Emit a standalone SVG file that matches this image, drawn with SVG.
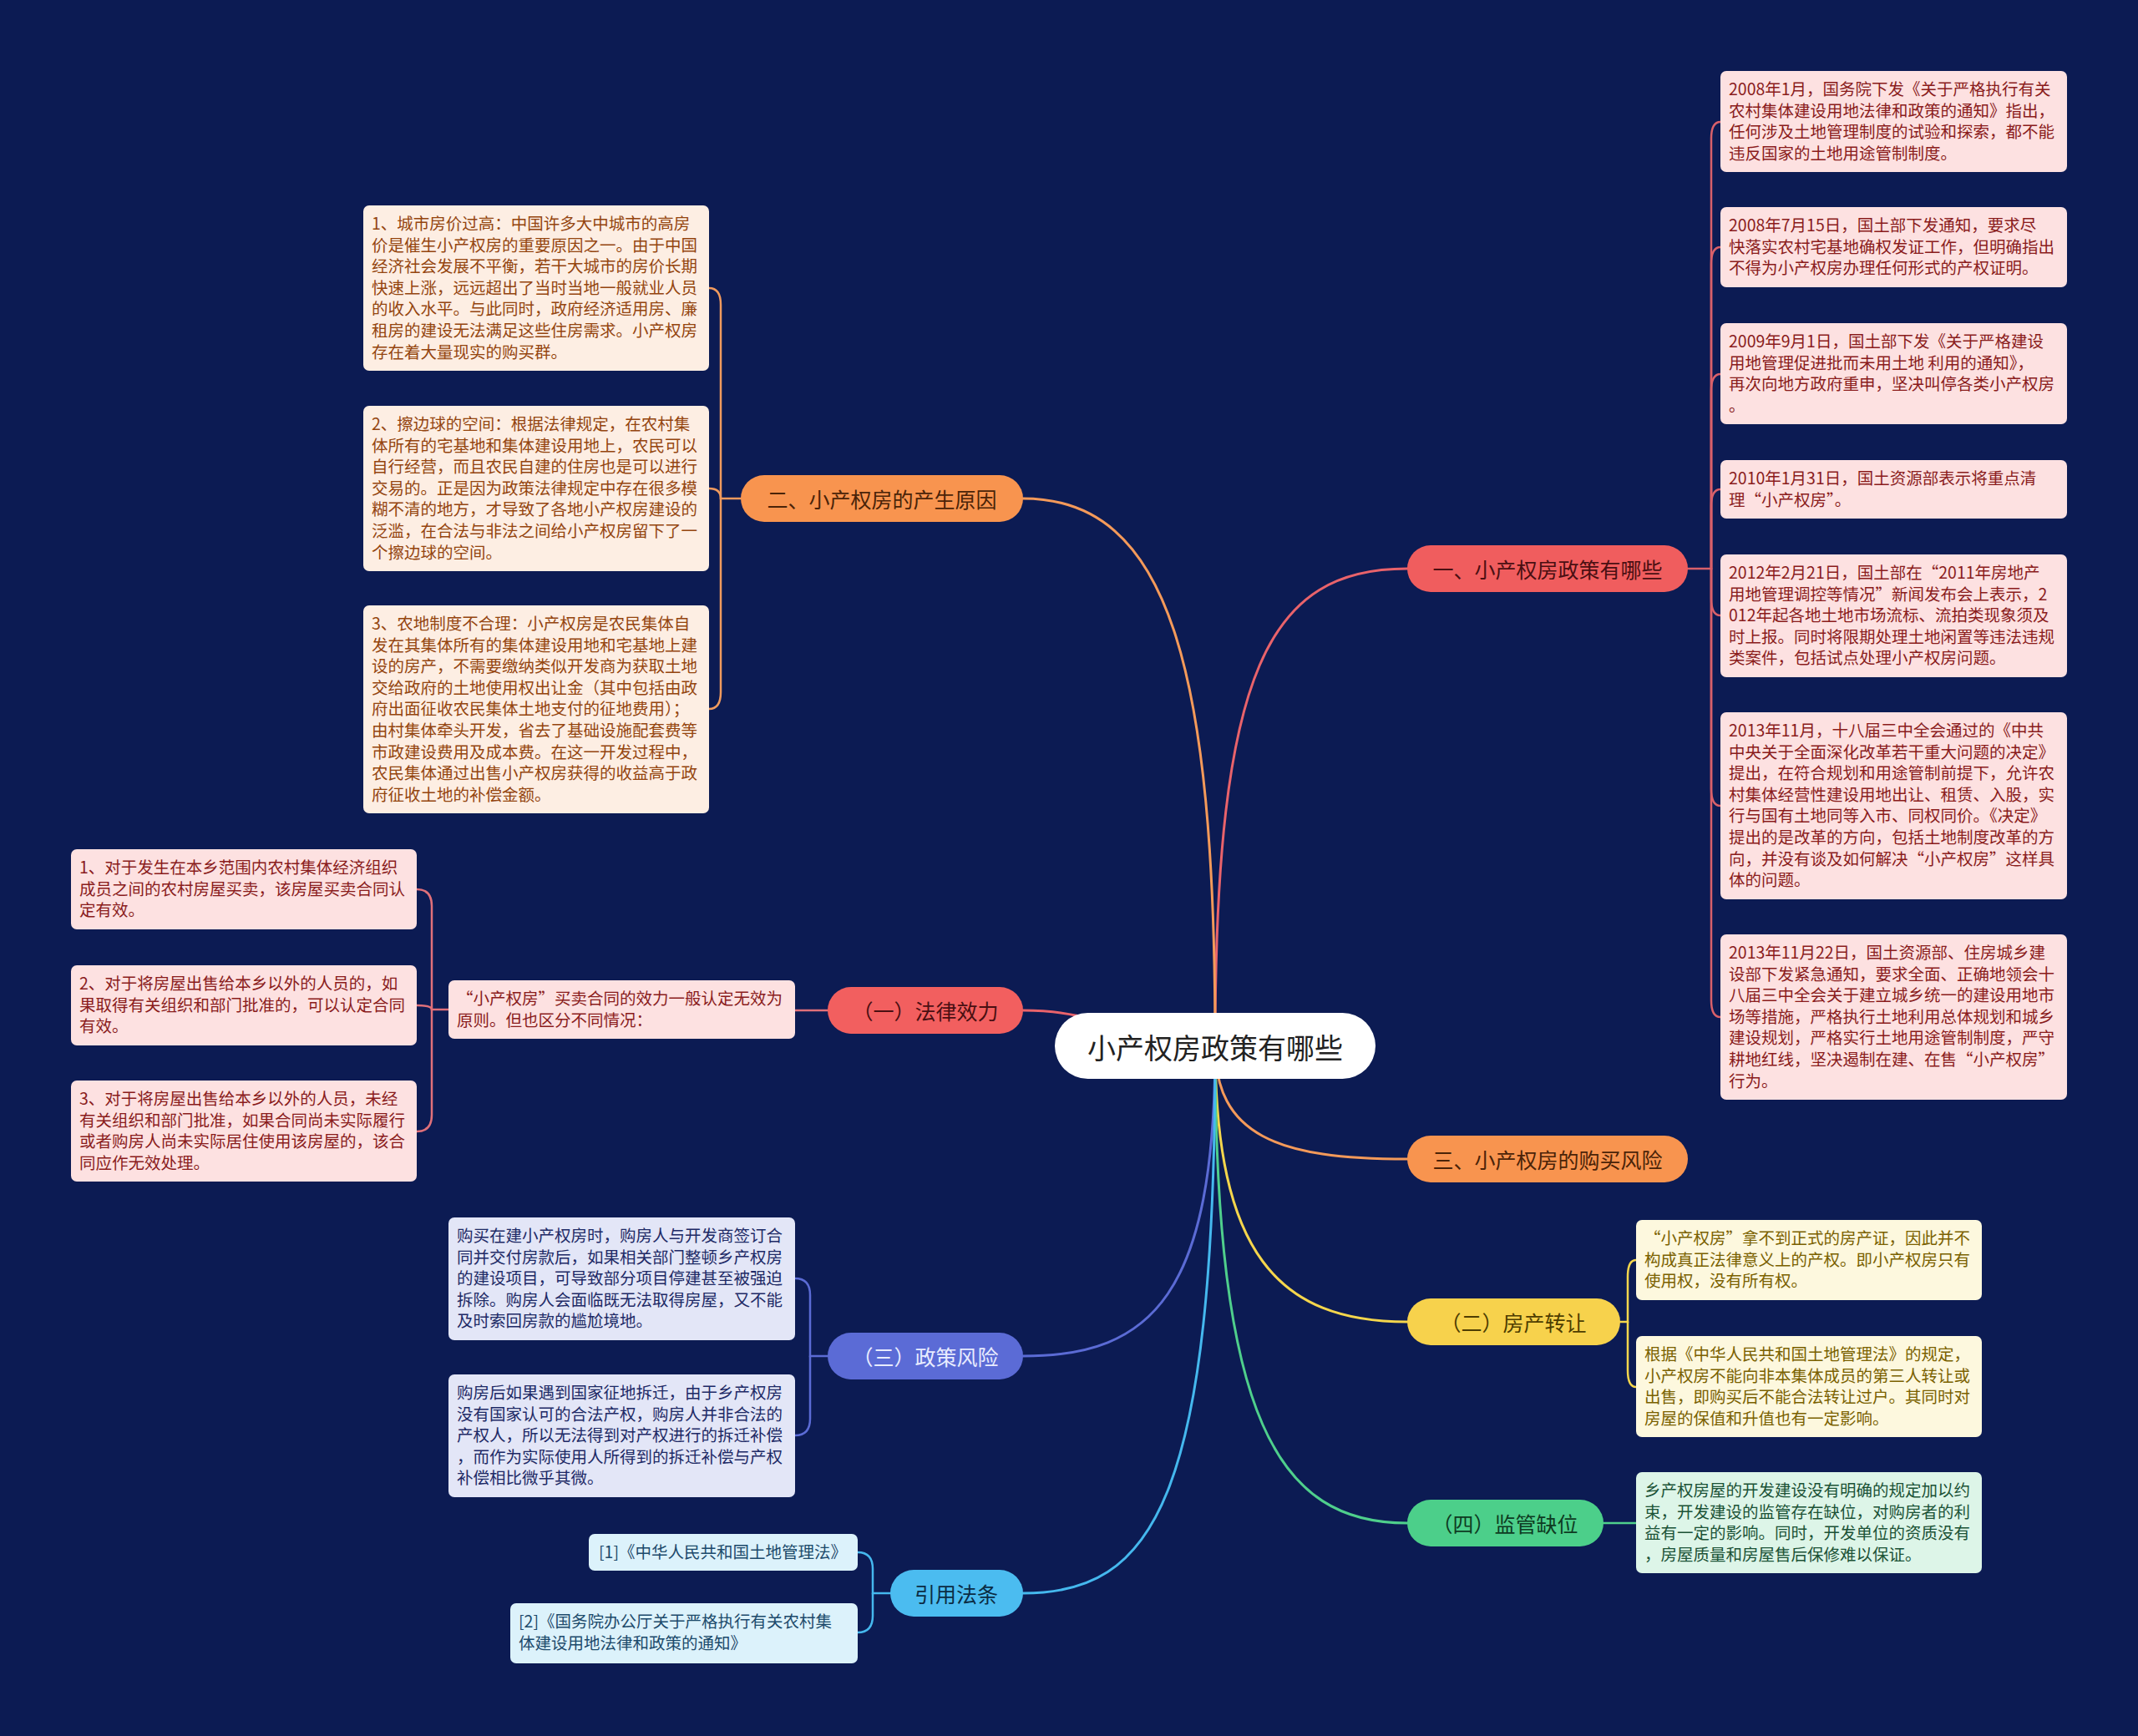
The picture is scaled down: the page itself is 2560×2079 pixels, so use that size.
<svg xmlns="http://www.w3.org/2000/svg" width="2560" height="2079" viewBox="0 0 2560 2079">
<style>
text{font-family:"Noto Sans CJK SC","Noto Sans",sans-serif}
.lf{font-size:19.5px}
.br{font-size:25px;text-anchor:middle;dominant-baseline:central}
.ln{fill:none;stroke-width:3;stroke-linecap:round}
.sl{fill:none;stroke-width:2.5;stroke-linecap:round}
.pk rect{fill:#fde1e1}.pk text{fill:#8a1c1c}
.pe rect{fill:#fdeee3}.pe text{fill:#94450f}
.lv rect{fill:#e3e6f7}.lv text{fill:#1e2a66}
.lb rect{fill:#dcf2fb}.lb text{fill:#1c4a6b}
.ly rect{fill:#fdf8de}.ly text{fill:#7a6100}
.lg rect{fill:#ddf5e8}.lg text{fill:#1b5236}
</style>
<rect width="2560" height="2079" fill="#0c1b53"/>
<g id="connectors">
<path class="ln" stroke="#e9636b" d="M1455 1252 C1455 800 1520 681 1685 681"/>
<path class="ln" stroke="#f49a5a" d="M1455 1252 C1455 800 1400 597 1225 597"/>
<path class="ln" stroke="#e9636b" d="M1455 1252 C1350 1252 1330 1210 1225 1210"/>
<path class="ln" stroke="#f49a5a" d="M1455 1252 C1455 1360 1530 1388 1685 1388"/>
<path class="ln" stroke="#f5d64c" d="M1455 1252 C1455 1500 1530 1583 1685 1583"/>
<path class="ln" stroke="#4fcf8c" d="M1455 1252 C1455 1700 1530 1824 1685 1824"/>
<path class="ln" stroke="#5b6bd5" d="M1455 1252 C1455 1550 1380 1624 1225 1624"/>
<path class="ln" stroke="#45b8ee" d="M1455 1252 C1455 1800 1380 1908 1225 1908"/>
<g stroke="#d9606a" class="sl">
<path d="M2021 681 H2049 V166 Q2049 146 2060 146"/>
<path d="M2049 681 V316 Q2049 296 2060 296"/>
<path d="M2049 681 V468 Q2049 448 2060 448"/>
<path d="M2049 681 V606 Q2049 586 2060 586"/>
<path d="M2049 681 V717 Q2049 737 2060 737"/>
<path d="M2049 681 V945 Q2049 965 2060 965"/>
<path d="M2049 681 V1198 Q2049 1218 2060 1218"/>
</g>
<g stroke="#f09a5e" class="sl">
<path d="M887 597 H863 V365 Q863 345 849 345"/>
<path d="M863 597 Q863 585 849 585"/>
<path d="M863 597 V829 Q863 849 849 849"/>
</g>
<g stroke="#e0707a" class="sl">
<path d="M991 1210 H952"/>
<path d="M537 1209 H517 V1085 Q517 1065 499 1065"/>
<path d="M517 1209 Q517 1204 499 1204"/>
<path d="M517 1209 V1335 Q517 1355 499 1355"/>
</g>
<g stroke="#5b6bd5" class="sl">
<path d="M991 1624 H970 V1551 Q970 1531 952 1531"/>
<path d="M970 1624 V1699 Q970 1719 952 1719"/>
</g>
<g stroke="#45b8ee" class="sl">
<path d="M1066 1908 H1045 V1879 Q1045 1859 1027 1859"/>
<path d="M1045 1908 V1935 Q1045 1955 1027 1955"/>
</g>
<g stroke="#f5d64c" class="sl">
<path d="M1940 1583 H1949 V1529 Q1949 1509 1959 1509"/>
<path d="M1949 1583 V1641 Q1949 1661 1959 1661"/>
</g>
<path class="sl" stroke="#4fcf8c" d="M1920 1824 H1959"/>
</g>

<g id="root">
<rect x="1263" y="1213" width="384" height="79" rx="39.5" fill="#ffffff"/>
<text x="1455" y="1253" font-size="34" fill="#222222" text-anchor="middle" dominant-baseline="central">小产权房政策有哪些</text>
</g>

<g id="b1"><rect x="1685" y="653" width="336" height="56" rx="28" fill="#f05d5e"/><text class="br" x="1853" y="681" fill="#4a0f12">一、小产权房政策有哪些</text></g>
<g id="b2"><rect x="887" y="569" width="338" height="56" rx="28" fill="#f8944f"/><text class="br" x="1056" y="597" fill="#4a2308">二、小产权房的产生原因</text></g>
<g id="b3"><rect x="991" y="1182" width="234" height="56" rx="28" fill="#f25f5f"/><text class="br" x="1108" y="1210" fill="#4a0f12">（一）法律效力</text></g>
<g id="b4"><rect x="1685" y="1360" width="336" height="56" rx="28" fill="#f8944f"/><text class="br" x="1853" y="1388" fill="#4a2308">三、小产权房的购买风险</text></g>
<g id="b5"><rect x="1685" y="1555" width="255" height="56" rx="28" fill="#f7d24c"/><text class="br" x="1812" y="1583" fill="#4d3d00">（二）房产转让</text></g>
<g id="b6"><rect x="991" y="1596" width="234" height="56" rx="28" fill="#5b6bd6"/><text class="br" x="1108" y="1624" fill="#e8ecff">（三）政策风险</text></g>
<g id="b7"><rect x="1685" y="1796" width="235" height="56" rx="28" fill="#4ccf8a"/><text class="br" x="1802" y="1824" fill="#0e3b22">（四）监管缺位</text></g>
<g id="b8"><rect x="1066" y="1880" width="159" height="56" rx="28" fill="#4bbcf0"/><text class="br" x="1145" y="1908" fill="#0b2c44">引用法条</text></g>

<g id="p1" class="pk"><rect x="2060" y="85" width="415" height="121" rx="7"/><text class="lf" x="2070" y="114"><tspan x="2070">2008年1月，国务院下发《关于严格执行有关</tspan><tspan x="2070" dy="25.6">农村集体建设用地法律和政策的通知》指出，</tspan><tspan x="2070" dy="25.6">任何涉及土地管理制度的试验和探索，都不能</tspan><tspan x="2070" dy="25.6">违反国家的土地用途管制制度。</tspan></text></g>
<g id="p2" class="pk"><rect x="2060" y="248" width="415" height="96" rx="7"/><text class="lf" x="2070" y="277"><tspan x="2070">2008年7月15日，国土部下发通知，要求尽</tspan><tspan x="2070" dy="25.6">快落实农村宅基地确权发证工作，但明确指出</tspan><tspan x="2070" dy="25.6">不得为小产权房办理任何形式的产权证明。</tspan></text></g>
<g id="p3" class="pk"><rect x="2060" y="387" width="415" height="121" rx="7"/><text class="lf" x="2070" y="416"><tspan x="2070">2009年9月1日，国土部下发《关于严格建设</tspan><tspan x="2070" dy="25.6">用地管理促进批而未用土地 利用的通知》，</tspan><tspan x="2070" dy="25.6">再次向地方政府重申，坚决叫停各类小产权房</tspan><tspan x="2070" dy="25.6">。</tspan></text></g>
<g id="p4" class="pk"><rect x="2060" y="551" width="415" height="70" rx="7"/><text class="lf" x="2070" y="580"><tspan x="2070">2010年1月31日，国土资源部表示将重点清</tspan><tspan x="2070" dy="25.6">理“小产权房”。</tspan></text></g>
<g id="p5" class="pk"><rect x="2060" y="664" width="415" height="147" rx="7"/><text class="lf" x="2070" y="693"><tspan x="2070">2012年2月21日，国土部在“2011年房地产</tspan><tspan x="2070" dy="25.6">用地管理调控等情况”新闻发布会上表示，2</tspan><tspan x="2070" dy="25.6">012年起各地土地市场流标、流拍类现象须及</tspan><tspan x="2070" dy="25.6">时上报。同时将限期处理土地闲置等违法违规</tspan><tspan x="2070" dy="25.6">类案件，包括试点处理小产权房问题。</tspan></text></g>
<g id="p6" class="pk"><rect x="2060" y="853" width="415" height="224" rx="7"/><text class="lf" x="2070" y="882"><tspan x="2070">2013年11月，十八届三中全会通过的《中共</tspan><tspan x="2070" dy="25.6">中央关于全面深化改革若干重大问题的决定》</tspan><tspan x="2070" dy="25.6">提出，在符合规划和用途管制前提下，允许农</tspan><tspan x="2070" dy="25.6">村集体经营性建设用地出让、租赁、入股，实</tspan><tspan x="2070" dy="25.6">行与国有土地同等入市、同权同价。《决定》</tspan><tspan x="2070" dy="25.6">提出的是改革的方向，包括土地制度改革的方</tspan><tspan x="2070" dy="25.6">向，并没有谈及如何解决“小产权房”这样具</tspan><tspan x="2070" dy="25.6">体的问题。</tspan></text></g>
<g id="p7" class="pk"><rect x="2060" y="1119" width="415" height="198" rx="7"/><text class="lf" x="2070" y="1148"><tspan x="2070">2013年11月22日，国土资源部、住房城乡建</tspan><tspan x="2070" dy="25.6">设部下发紧急通知，要求全面、正确地领会十</tspan><tspan x="2070" dy="25.6">八届三中全会关于建立城乡统一的建设用地市</tspan><tspan x="2070" dy="25.6">场等措施，严格执行土地利用总体规划和城乡</tspan><tspan x="2070" dy="25.6">建设规划，严格实行土地用途管制制度，严守</tspan><tspan x="2070" dy="25.6">耕地红线，坚决遏制在建、在售“小产权房”</tspan><tspan x="2070" dy="25.6">行为。</tspan></text></g>

<g id="o1" class="pe"><rect x="435" y="246" width="414" height="198" rx="7"/><text class="lf" x="445" y="275"><tspan x="445">1、城市房价过高：中国许多大中城市的高房</tspan><tspan x="445" dy="25.6">价是催生小产权房的重要原因之一。由于中国</tspan><tspan x="445" dy="25.6">经济社会发展不平衡，若干大城市的房价长期</tspan><tspan x="445" dy="25.6">快速上涨，远远超出了当时当地一般就业人员</tspan><tspan x="445" dy="25.6">的收入水平。与此同时，政府经济适用房、廉</tspan><tspan x="445" dy="25.6">租房的建设无法满足这些住房需求。小产权房</tspan><tspan x="445" dy="25.6">存在着大量现实的购买群。</tspan></text></g>
<g id="o2" class="pe"><rect x="435" y="486" width="414" height="198" rx="7"/><text class="lf" x="445" y="515"><tspan x="445">2、擦边球的空间：根据法律规定，在农村集</tspan><tspan x="445" dy="25.6">体所有的宅基地和集体建设用地上，农民可以</tspan><tspan x="445" dy="25.6">自行经营，而且农民自建的住房也是可以进行</tspan><tspan x="445" dy="25.6">交易的。正是因为政策法律规定中存在很多模</tspan><tspan x="445" dy="25.6">糊不清的地方，才导致了各地小产权房建设的</tspan><tspan x="445" dy="25.6">泛滥，在合法与非法之间给小产权房留下了一</tspan><tspan x="445" dy="25.6">个擦边球的空间。</tspan></text></g>
<g id="o3" class="pe"><rect x="435" y="725" width="414" height="249" rx="7"/><text class="lf" x="445" y="754"><tspan x="445">3、农地制度不合理：小产权房是农民集体自</tspan><tspan x="445" dy="25.6">发在其集体所有的集体建设用地和宅基地上建</tspan><tspan x="445" dy="25.6">设的房产，不需要缴纳类似开发商为获取土地</tspan><tspan x="445" dy="25.6">交给政府的土地使用权出让金（其中包括由政</tspan><tspan x="445" dy="25.6">府出面征收农民集体土地支付的征地费用）；</tspan><tspan x="445" dy="25.6">由村集体牵头开发，省去了基础设施配套费等</tspan><tspan x="445" dy="25.6">市政建设费用及成本费。在这一开发过程中，</tspan><tspan x="445" dy="25.6">农民集体通过出售小产权房获得的收益高于政</tspan><tspan x="445" dy="25.6">府征收土地的补偿金额。</tspan></text></g>

<g id="m0" class="pk"><rect x="537" y="1174" width="415" height="70" rx="7"/><text class="lf" x="547" y="1203"><tspan x="547">“小产权房”买卖合同的效力一般认定无效为</tspan><tspan x="547" dy="25.6">原则。但也区分不同情况：</tspan></text></g>
<g id="r1" class="pk"><rect x="85" y="1017" width="414" height="96" rx="7"/><text class="lf" x="95" y="1046"><tspan x="95">1、对于发生在本乡范围内农村集体经济组织</tspan><tspan x="95" dy="25.6">成员之间的农村房屋买卖，该房屋买卖合同认</tspan><tspan x="95" dy="25.6">定有效。</tspan></text></g>
<g id="r2" class="pk"><rect x="85" y="1156" width="414" height="96" rx="7"/><text class="lf" x="95" y="1185"><tspan x="95">2、对于将房屋出售给本乡以外的人员的，如</tspan><tspan x="95" dy="25.6">果取得有关组织和部门批准的，可以认定合同</tspan><tspan x="95" dy="25.6">有效。</tspan></text></g>
<g id="r3" class="pk"><rect x="85" y="1294" width="414" height="121" rx="7"/><text class="lf" x="95" y="1323"><tspan x="95">3、对于将房屋出售给本乡以外的人员，未经</tspan><tspan x="95" dy="25.6">有关组织和部门批准，如果合同尚未实际履行</tspan><tspan x="95" dy="25.6">或者购房人尚未实际居住使用该房屋的，该合</tspan><tspan x="95" dy="25.6">同应作无效处理。</tspan></text></g>

<g id="v1" class="lv"><rect x="537" y="1458" width="415" height="147" rx="7"/><text class="lf" x="547" y="1487"><tspan x="547">购买在建小产权房时，购房人与开发商签订合</tspan><tspan x="547" dy="25.6">同并交付房款后，如果相关部门整顿乡产权房</tspan><tspan x="547" dy="25.6">的建设项目，可导致部分项目停建甚至被强迫</tspan><tspan x="547" dy="25.6">拆除。购房人会面临既无法取得房屋，又不能</tspan><tspan x="547" dy="25.6">及时索回房款的尴尬境地。</tspan></text></g>
<g id="v2" class="lv"><rect x="537" y="1646" width="415" height="147" rx="7"/><text class="lf" x="547" y="1675"><tspan x="547">购房后如果遇到国家征地拆迁，由于乡产权房</tspan><tspan x="547" dy="25.6">没有国家认可的合法产权，购房人并非合法的</tspan><tspan x="547" dy="25.6">产权人，所以无法得到对产权进行的拆迁补偿</tspan><tspan x="547" dy="25.6">，而作为实际使用人所得到的拆迁补偿与产权</tspan><tspan x="547" dy="25.6">补偿相比微乎其微。</tspan></text></g>

<g id="c1" class="lb"><rect x="705" y="1837" width="322" height="44" rx="7"/><text class="lf" x="717" y="1866">[1]《中华人民共和国土地管理法》</text></g>
<g id="c2" class="lb"><rect x="611" y="1920" width="416" height="72" rx="7"/><text class="lf" x="621" y="1949"><tspan x="621">[2]《国务院办公厅关于严格执行有关农村集</tspan><tspan x="621" dy="25.6">体建设用地法律和政策的通知》</tspan></text></g>

<g id="y1" class="ly"><rect x="1959" y="1461" width="414" height="96" rx="7"/><text class="lf" x="1969" y="1490"><tspan x="1969">“小产权房”拿不到正式的房产证，因此并不</tspan><tspan x="1969" dy="25.6">构成真正法律意义上的产权。即小产权房只有</tspan><tspan x="1969" dy="25.6">使用权，没有所有权。</tspan></text></g>
<g id="y2" class="ly"><rect x="1959" y="1600" width="414" height="121" rx="7"/><text class="lf" x="1969" y="1629"><tspan x="1969">根据《中华人民共和国土地管理法》的规定，</tspan><tspan x="1969" dy="25.6">小产权房不能向非本集体成员的第三人转让或</tspan><tspan x="1969" dy="25.6">出售，即购买后不能合法转让过户。其同时对</tspan><tspan x="1969" dy="25.6">房屋的保值和升值也有一定影响。</tspan></text></g>
<g id="g1" class="lg"><rect x="1959" y="1763" width="414" height="121" rx="7"/><text class="lf" x="1969" y="1792"><tspan x="1969">乡产权房屋的开发建设没有明确的规定加以约</tspan><tspan x="1969" dy="25.6">束，开发建设的监管存在缺位，对购房者的利</tspan><tspan x="1969" dy="25.6">益有一定的影响。同时，开发单位的资质没有</tspan><tspan x="1969" dy="25.6">，房屋质量和房屋售后保修难以保证。</tspan></text></g>
</svg>
